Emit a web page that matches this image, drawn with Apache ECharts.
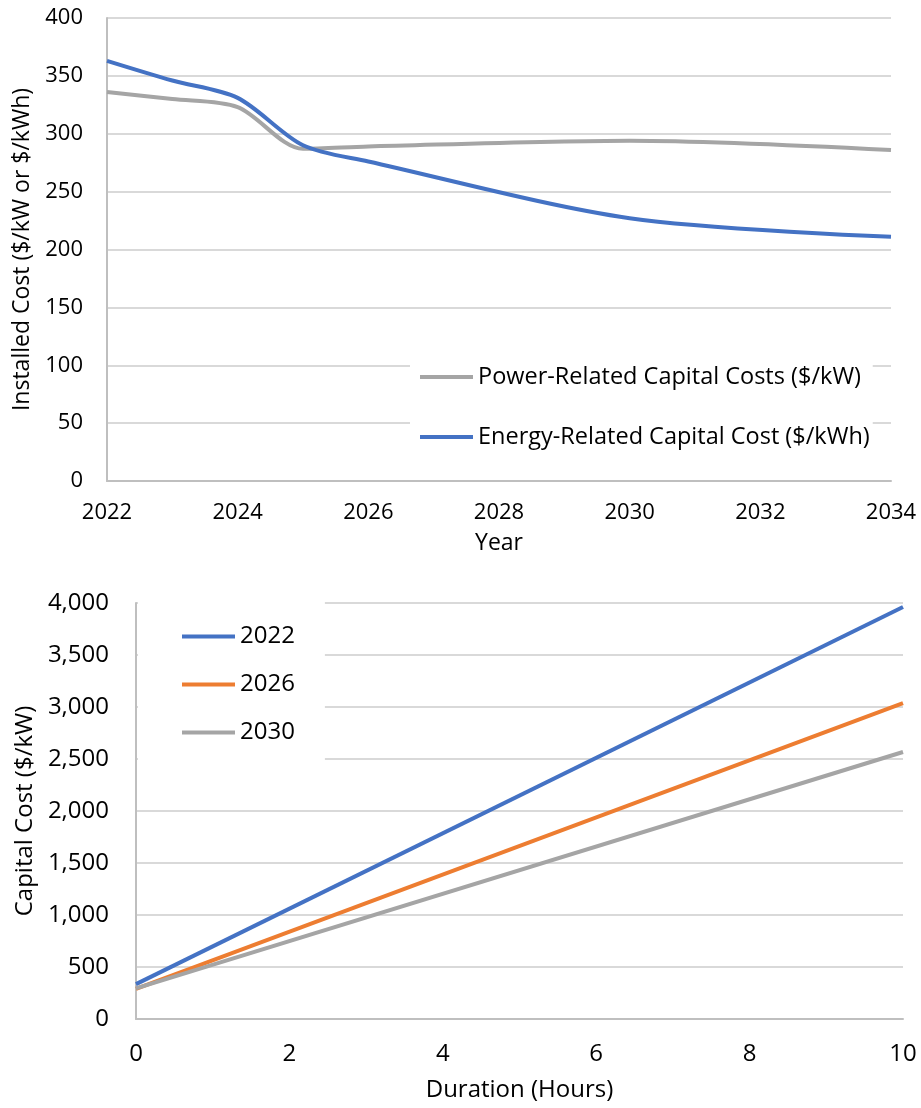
<!DOCTYPE html>
<html>
<head>
<meta charset="utf-8">
<script src="https://cdn.jsdelivr.net/npm/echarts@6/dist/echarts.min.js"></script>
<style>
  html, body { margin: 0; padding: 0; background: #fff; }
  #main { width: 921px; height: 1108px; }
</style>
</head>
<body>
<div id="main"></div>
<script>
// top chart: installed cost by year
const years = [2022, 2023, 2024, 2025, 2026, 2030, 2034]
const powerCost = [336, 330, 323, 287, 289, 294, 286]
const energyCost = [363, 346, 331, 290, 276, 227, 211]

// bottom chart: capital cost vs duration
const durations = [0, 10]
const cost2022 = [335, 3962]
const cost2026 = [290, 3038]
const cost2030 = [295, 2567]

const yearTicks = { min: 2022, max: 2034, interval: 2 }
const topYTicks = { min: 0, max: 400, interval: 50 }
const durTicks = { min: 0, max: 10, interval: 2 }
const botYTicks = { min: 0, max: 4000, interval: 500 }

const FONT = 'Open Sans'
const blue = '#4472C4', orange = '#ED7D31', gray = '#A5A5A5'

const pairs = (xs, ys) => xs.map((x, i) => [x, ys[i]])

const chart = echarts.init(document.getElementById('main'), null, { renderer: 'canvas' })

const option = {
  backgroundColor: '#fff',
  animation: false,
  textStyle: { fontFamily: FONT, color: '#000' },
  grid: [
    { left: 107, right: 30, top: 18, height: 463 },
    { left: 136, right: 18, top: 603, height: 416 }
  ],
  legend: [
    {
      data: ['Power-Related Capital Costs ($/kW)', 'Energy-Related Capital Cost ($/kWh)'],
      orient: 'vertical',
      left: 410,
      top: 343,
      padding: [20, 3, 18, 10],
      backgroundColor: '#fff',
      icon: 'rect',
      itemWidth: 53,
      itemHeight: 4,
      itemGap: 32,
      textStyle: { fontFamily: FONT, fontSize: 23.5, color: '#000', lineHeight: 28 }
    },
    {
      data: ['2022', '2026', '2030'],
      orient: 'vertical',
      left: 138,
      top: 594,
      padding: [28, 30, 14, 44],
      backgroundColor: '#fff',
      icon: 'rect',
      itemWidth: 53,
      itemHeight: 4,
      itemGap: 19,
      textStyle: { fontFamily: FONT, fontSize: 24, color: '#000', lineHeight: 29 }
    }
  ],
  xAxis: [
    {
      gridIndex: 0, type: 'value', ...yearTicks,
      name: 'Year', nameLocation: 'middle', nameGap: 51,
      nameTextStyle: { fontSize: 23, color: '#000' },
      axisLine: { lineStyle: { color: '#BFBFBF', width: 2 } },
      axisTick: { show: false },
      splitLine: { show: false },
      axisLabel: { margin: 21, fontSize: 22, color: '#000', formatter: v => String(v) }
    },
    {
      gridIndex: 1, type: 'value', ...durTicks,
      name: 'Duration (Hours)', nameLocation: 'middle', nameGap: 59,
      nameTextStyle: { fontSize: 24, color: '#000' },
      axisLine: { lineStyle: { color: '#BFBFBF', width: 2 } },
      axisTick: { show: false },
      splitLine: { show: false },
      axisLabel: { margin: 23, fontSize: 24, color: '#000' }
    }
  ],
  yAxis: [
    {
      gridIndex: 0, type: 'value', ...topYTicks,
      name: 'Installed Cost ($/kW or $/kWh)', nameLocation: 'middle', nameGap: 67,
      nameTextStyle: { fontSize: 23, color: '#000' },
      axisLine: { show: true, lineStyle: { color: '#BFBFBF', width: 2 } },
      axisTick: { show: false },
      splitLine: { lineStyle: { color: '#D9D9D9', width: 2 } },
      axisLabel: { margin: 24, fontSize: 22, color: '#000' }
    },
    {
      gridIndex: 1, type: 'value', ...botYTicks,
      name: 'Capital Cost ($/kW)', nameLocation: 'middle', nameGap: 97,
      nameTextStyle: { fontSize: 24, color: '#000' },
      axisLine: { show: true, lineStyle: { color: '#BFBFBF', width: 2 } },
      axisTick: { show: false },
      splitLine: { lineStyle: { color: '#D9D9D9', width: 2 } },
      axisLabel: { margin: 27, fontSize: 24, color: '#000', formatter: v => v.toLocaleString('en-US') }
    }
  ],
  series: [
    {
      name: 'Power-Related Capital Costs ($/kW)', type: 'line', xAxisIndex: 0, yAxisIndex: 0,
      data: pairs(years, powerCost), smooth: 0.3, showSymbol: false, symbol: 'none',
      lineStyle: { color: gray, width: 4 }, itemStyle: { color: gray }
    },
    {
      name: 'Energy-Related Capital Cost ($/kWh)', type: 'line', xAxisIndex: 0, yAxisIndex: 0,
      data: pairs(years, energyCost), smooth: 0.3, showSymbol: false, symbol: 'none',
      lineStyle: { color: blue, width: 4 }, itemStyle: { color: blue }
    },
    {
      name: '2022', type: 'line', xAxisIndex: 1, yAxisIndex: 1,
      data: pairs(durations, cost2022), showSymbol: false, symbol: 'none',
      lineStyle: { color: blue, width: 4 }, itemStyle: { color: blue }
    },
    {
      name: '2026', type: 'line', xAxisIndex: 1, yAxisIndex: 1,
      data: pairs(durations, cost2026), showSymbol: false, symbol: 'none',
      lineStyle: { color: orange, width: 4 }, itemStyle: { color: orange }
    },
    {
      name: '2030', type: 'line', xAxisIndex: 1, yAxisIndex: 1,
      data: pairs(durations, cost2030), showSymbol: false, symbol: 'none',
      lineStyle: { color: gray, width: 4 }, itemStyle: { color: gray }
    }
  ]
}

chart.setOption(option)
</script>
</body>
</html>
